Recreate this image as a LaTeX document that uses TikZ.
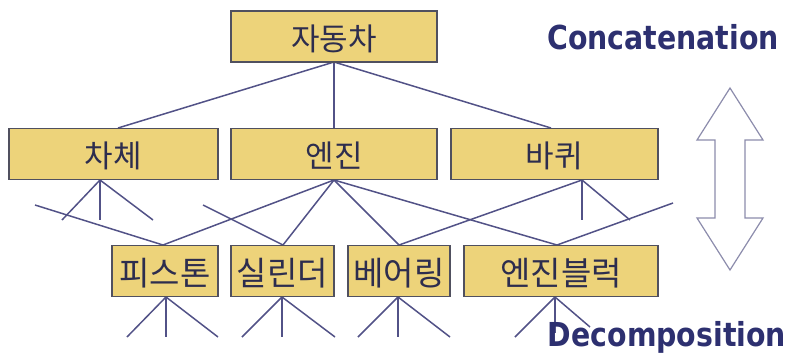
\documentclass[tikz,border=0pt]{standalone}
\usepackage{fontspec}
\newfontfamily\kr{Noto Sans CJK KR}
\newfontfamily\lat{DejaVu Sans}[BoldFont={DejaVu Sans Bold}]
\usetikzlibrary{calc}
\definecolor{boxfill}{RGB}{237,211,122}
\definecolor{boxline}{RGB}{80,80,95}
\definecolor{boxtext}{RGB}{45,45,78}
\definecolor{linkcol}{RGB}{82,82,135}
\definecolor{titlecol}{RGB}{45,48,112}
\definecolor{arrowcol}{RGB}{140,140,172}
\tikzset{
  box/.style={draw=boxline, fill=boxfill, line width=1.4pt, minimum height=51pt,
    inner sep=0pt, text=boxtext, text height=27pt, text depth=0pt,
    font=\kr\fontsize{31}{31}\selectfont},
  lowbox/.style={box, text height=28.4pt, font=\kr\fontsize{33}{33}\selectfont},
  link/.style={draw=linkcol, line width=1.5pt},
  title/.style={text=titlecol, font=\lat\bfseries\fontsize{33}{33}\selectfont,
    xscale=0.86, transform shape, inner sep=0pt, anchor=base},
  bigarrow/.style={draw=arrowcol, fill=white, line width=1.2pt, line join=miter}
}
\begin{document}
\begin{tikzpicture}[x=1pt,y=-1pt]
\useasboundingbox (0,0) rectangle (790,354);
% stub end coordinates
\coordinate (c1) at (62,220);
\coordinate (c2) at (100,220);
\coordinate (c3) at (153,220);
\coordinate (w1) at (582,220);
\coordinate (w2) at (630,220);
\coordinate (fl1) at (35,205);
\coordinate (fl2) at (203,205);
\coordinate (fr1) at (673,203);
\coordinate (p1) at (127,337);
\coordinate (p2) at (166,337);
\coordinate (p3) at (218,337);
\coordinate (s1) at (242,337);
\coordinate (s2) at (282,337);
\coordinate (s3) at (335,337);
\coordinate (b1) at (358,337);
\coordinate (b2) at (398,337);
\coordinate (b3) at (450,337);
\coordinate (e1) at (515,337);
\coordinate (e2) at (555,333);
\coordinate (e3) at (590,327);

% attachment points
\coordinate (topS) at (334,62);
\coordinate (chaseN) at (118,128);
\coordinate (engN) at (334,128);
\coordinate (wheelN) at (551,128);
\coordinate (chaseS) at (100,180);
\coordinate (engS) at (334,180);
\coordinate (wheelS) at (582,180);
\coordinate (pisN) at (163,245);
\coordinate (cylN) at (283,245);
\coordinate (bearN) at (399,245);
\coordinate (blkN) at (557,245);
\coordinate (pisS) at (166,297);
\coordinate (cylS) at (282,297);
\coordinate (bearS) at (398,297);
\coordinate (blkS) at (555,297);

\draw[link] (topS) -- (chaseN);
\draw[link] (topS) -- (engN);
\draw[link] (topS) -- (wheelN);
\draw[link] (chaseS) -- (c1);
\draw[link] (chaseS) -- (c2);
\draw[link] (chaseS) -- (c3);
\draw[link] (engS) -- (pisN);
\draw[link] (engS) -- (cylN);
\draw[link] (engS) -- (bearN);
\draw[link] (engS) -- (blkN);
\draw[link] (wheelS) -- (bearN);
\draw[link] (wheelS) -- (w1);
\draw[link] (wheelS) -- (w2);
\draw[link] (fl1) -- (pisN);
\draw[link] (fl2) -- (cylN);
\draw[link] (fr1) -- (blkN);
\draw[link] (pisS) -- (p1);
\draw[link] (pisS) -- (p2);
\draw[link] (pisS) -- (p3);
\draw[link] (cylS) -- (s1);
\draw[link] (cylS) -- (s2);
\draw[link] (cylS) -- (s3);
\draw[link] (bearS) -- (b1);
\draw[link] (bearS) -- (b2);
\draw[link] (bearS) -- (b3);
\draw[link] (blkS) -- (e1);
\draw[link] (blkS) -- (e2);
\draw[link] (blkS) -- (e3);

% boxes
\node[box, minimum width=206pt] (car) at (334,36.5) {자동차};
\node[box, minimum width=209pt] (chase) at (113.5,154) {차체};
\node[box, minimum width=206pt] (eng) at (334,154) {엔진};
\node[box, minimum width=207pt] (wheel) at (554.5,154) {바퀴};
\node[lowbox, minimum width=106pt] (pis) at (165,271) {피스톤};
\node[lowbox, minimum width=103pt] (cyl) at (282.5,271) {실린더};
\node[lowbox, minimum width=102pt] (bear) at (399,271) {베어링};
\node[lowbox, minimum width=194pt] (blk) at (561,271) {엔진블럭};

% titles
\node[title] (conc) at (663,49) {Concatenation};
\node[title] (deco) at (667,346) {Decomposition};

% double arrow
\draw[bigarrow] (730,88) -- (763,140) -- (745,140) -- (745,218) -- (763,218)
  -- (730,270) -- (697,218) -- (715,218) -- (715,140) -- (697,140) -- cycle;
\end{tikzpicture}
\end{document}
